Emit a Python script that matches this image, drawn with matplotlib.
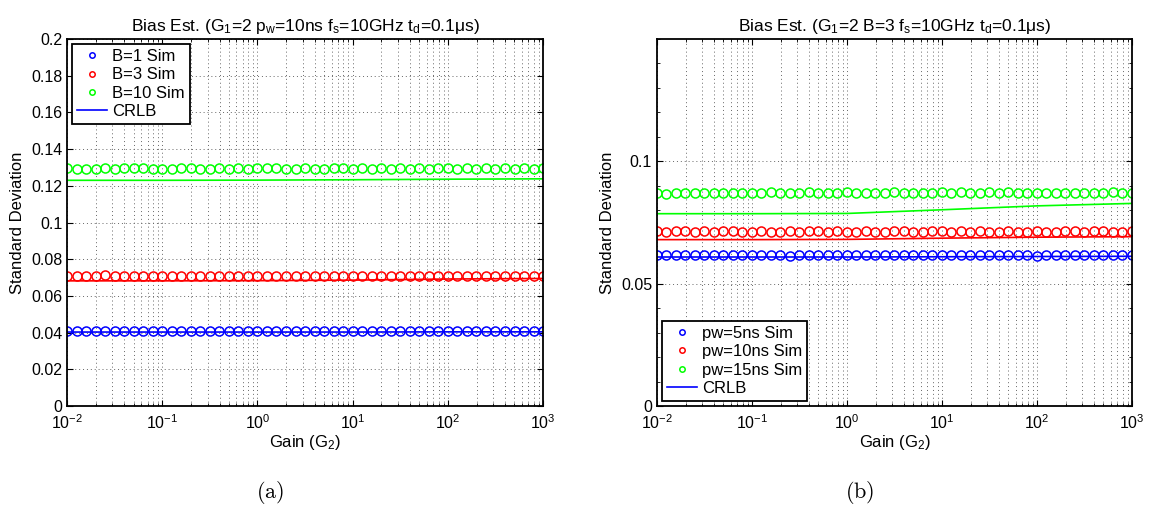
import numpy as np
import matplotlib
matplotlib.use("Agg")
import matplotlib.pyplot as plt
from matplotlib.ticker import FixedLocator, FixedFormatter, LogLocator, MultipleLocator

plt.rcParams["font.family"] = ["Liberation Sans", "DejaVu Sans"]
plt.rcParams["mathtext.fontset"] = "custom"
plt.rcParams["mathtext.rm"] = "Liberation Sans"
plt.rcParams["mathtext.it"] = "Liberation Sans:italic"
plt.rcParams["mathtext.default"] = "regular"

# ── Données ─────────────────────────────────────────────────────────────
gain = np.logspace(-2, 3, 51)          # grille de gains G2 (51 points)
gain_crlb = [1e-2, 1e-1, 1e0, 1e1, 1e2, 1e3]

# (a) : p_w = 10 ns, B variable
a_b1_sim = [0.0409, 0.0408, 0.0409, 0.0409, 0.0408, 0.0409, 0.0409, 0.0408, 0.0409, 0.0408,
            0.0409, 0.0409, 0.0408, 0.0409, 0.0409, 0.0408, 0.0409, 0.0408, 0.0409, 0.0409,
            0.0408, 0.0409, 0.0409, 0.0408, 0.0409, 0.0409, 0.0408, 0.0409, 0.0409, 0.0408,
            0.0409, 0.0409, 0.0408, 0.0409, 0.0409, 0.0408, 0.0409, 0.0409, 0.0409, 0.0408,
            0.0409, 0.0409, 0.0408, 0.0409, 0.0409, 0.0408, 0.0409, 0.0409, 0.0408, 0.0409, 0.0409]
a_b3_sim = [0.0710, 0.0709, 0.0710, 0.0709, 0.0712, 0.0709, 0.0710, 0.0710, 0.0709, 0.0709,
            0.0710, 0.0710, 0.0709, 0.0710, 0.0711, 0.0710, 0.0710, 0.0711, 0.0711, 0.0710,
            0.0711, 0.0711, 0.0710, 0.0711, 0.0710, 0.0711, 0.0710, 0.0710, 0.0710, 0.0709,
            0.0710, 0.0710, 0.0709, 0.0711, 0.0710, 0.0710, 0.0711, 0.0710, 0.0709, 0.0710,
            0.0710, 0.0709, 0.0710, 0.0709, 0.0710, 0.0710, 0.0711, 0.0710, 0.0711, 0.0711, 0.0710]
a_b10_sim = [0.1295, 0.1293, 0.1294, 0.1294, 0.1296, 0.1294, 0.1296, 0.1295, 0.1295, 0.1294,
             0.1293, 0.1293, 0.1296, 0.1295, 0.1293, 0.1294, 0.1295, 0.1294, 0.1295, 0.1294,
             0.1295, 0.1296, 0.1296, 0.1294, 0.1294, 0.1295, 0.1294, 0.1294, 0.1295, 0.1295,
             0.1294, 0.1295, 0.1294, 0.1295, 0.1294, 0.1296, 0.1294, 0.1295, 0.1294, 0.1295,
             0.1295, 0.1294, 0.1295, 0.1294, 0.1295, 0.1294, 0.1295, 0.1294, 0.1295, 0.1294, 0.1295]
a_b1_crlb = [0.0403, 0.0403, 0.0403, 0.0403, 0.0404, 0.0404]
a_b3_crlb = [0.0682, 0.0682, 0.0683, 0.0686, 0.0692, 0.0695]
a_b10_crlb = [0.1230, 0.1230, 0.1231, 0.1233, 0.1236, 0.1238]

# (b) : B = 3, p_w variable
b_pw5_sim = [0.0616, 0.0616, 0.0616, 0.0616, 0.0616, 0.0616, 0.0616, 0.0616, 0.0616, 0.0616,
             0.0616, 0.0616, 0.0616, 0.0616, 0.0615, 0.0616, 0.0618, 0.0616, 0.0617, 0.0616,
             0.0616, 0.0616, 0.0616, 0.0616, 0.0616, 0.0616, 0.0616, 0.0616, 0.0616, 0.0616,
             0.0616, 0.0616, 0.0616, 0.0616, 0.0616, 0.0617, 0.0616, 0.0616, 0.0617, 0.0616,
             0.0615, 0.0616, 0.0616, 0.0616, 0.0616, 0.0616, 0.0616, 0.0616, 0.0617, 0.0616, 0.0616]
b_pw10_sim = [0.0714, 0.0713, 0.0714, 0.0714, 0.0713, 0.0714, 0.0713, 0.0714, 0.0714, 0.0713,
              0.0713, 0.0714, 0.0713, 0.0713, 0.0714, 0.0713, 0.0714, 0.0714, 0.0713, 0.0714,
              0.0713, 0.0713, 0.0715, 0.0713, 0.0713, 0.0714, 0.0714, 0.0713, 0.0713, 0.0714,
              0.0715, 0.0713, 0.0714, 0.0713, 0.0715, 0.0713, 0.0713, 0.0714, 0.0713, 0.0713,
              0.0714, 0.0713, 0.0713, 0.0714, 0.0714, 0.0713, 0.0714, 0.0714, 0.0713, 0.0713, 0.0714]
b_pw15_sim = [0.0871, 0.0868, 0.0872, 0.0872, 0.0872, 0.0872, 0.0872, 0.0872, 0.0872, 0.0871,
              0.0872, 0.0872, 0.0873, 0.0871, 0.0872, 0.0872, 0.0873, 0.0870, 0.0872, 0.0871,
              0.0873, 0.0872, 0.0871, 0.0872, 0.0872, 0.0873, 0.0871, 0.0871, 0.0872, 0.0872,
              0.0873, 0.0871, 0.0873, 0.0871, 0.0872, 0.0873, 0.0872, 0.0873, 0.0872, 0.0872,
              0.0872, 0.0872, 0.0871, 0.0872, 0.0872, 0.0872, 0.0872, 0.0872, 0.0873, 0.0872, 0.0871]
b_pw5_crlb = [0.0609, 0.0609, 0.0609, 0.0610, 0.0611, 0.0612]
b_pw10_crlb = [0.0680, 0.0680, 0.0681, 0.0686, 0.0690, 0.0692]
b_pw15_crlb = [0.0786, 0.0786, 0.0787, 0.0802, 0.0818, 0.0828]

COLORS = ["#0000ff", "#ff0000", "#00ff00"]
GRID = dict(color="0.4", linestyle=(0, (1, 3)), linewidth=0.7)


def style_axes(ax):
    ax.set_xscale("log")
    ax.set_xlim(1e-2, 1e3)
    ax.xaxis.set_major_locator(LogLocator(base=10, numticks=10))
    ax.xaxis.set_minor_locator(LogLocator(base=10, subs=np.arange(2, 10), numticks=20))
    ax.grid(True, which="major", axis="both", **GRID)
    ax.grid(True, which="minor", axis="x", **GRID)
    ax.tick_params(which="both", direction="in", top=True, right=True, labelsize=11.5)
    ax.tick_params(axis="x", which="major", pad=5)
    ax.tick_params(which="major", length=4, width=0.8)
    ax.tick_params(which="minor", length=2, width=0.6)
    for sp in ax.spines.values():
        sp.set_linewidth(1.3)
    ax.set_xlabel("Gain (G$_2$)", fontsize=12, labelpad=1)
    ax.set_ylabel("Standard Deviation", fontsize=12, labelpad=4)


def draw_panel(ax, sims, crlbs, labels):
    for y, c, lab in zip(sims, COLORS, labels):
        ax.plot(gain, y, "o", mfc="none", mec=c, mew=1.1, ms=6.5, label=lab)
    for k, (y, c) in enumerate(zip(crlbs, COLORS)):
        ax.plot(gain_crlb, y, "-", color=c, lw=1.2, label="CRLB" if k == 0 else None)


def add_legend(ax, loc):
    leg = ax.legend(loc=loc, fontsize=12, markerscale=0.6, handlelength=1.8,
                    handletextpad=0.3, borderpad=0.3, labelspacing=0.2,
                    borderaxespad=0.3, fancybox=False, framealpha=1, edgecolor="black")
    leg.get_frame().set_linewidth(1.3)


fig = plt.figure(figsize=(11.54, 5.08), dpi=100)
ax_a = fig.add_axes([0.0581, 0.2008, 0.4125, 0.7224])
ax_b = fig.add_axes([0.5693, 0.2008, 0.4116, 0.7224])

# ── (a) ──────────────────────────────────────────────────────────────────
draw_panel(ax_a, [a_b1_sim, a_b3_sim, a_b10_sim], [a_b1_crlb, a_b3_crlb, a_b10_crlb],
           ["B=1 Sim", "B=3 Sim", "B=10 Sim"])
style_axes(ax_a)
ax_a.set_ylim(0, 0.2)
yt_a = [0, 0.02, 0.04, 0.06, 0.08, 0.1, 0.12, 0.14, 0.16, 0.18, 0.2]
ax_a.yaxis.set_major_locator(FixedLocator(yt_a))
ax_a.yaxis.set_major_formatter(FixedFormatter(["0", "0.02", "0.04", "0.06", "0.08", "0.1",
                                               "0.12", "0.14", "0.16", "0.18", "0.2"]))
ax_a.set_title(r"Bias Est. (G$_1$=2 p$_w$=10ns f$_s$=10GHz t$_d$=0.1$\mu$s)",
               fontsize=12.5, pad=6)
add_legend(ax_a, "upper left")

# ── (b) ──────────────────────────────────────────────────────────────────
draw_panel(ax_b, [b_pw5_sim, b_pw10_sim, b_pw15_sim], [b_pw5_crlb, b_pw10_crlb, b_pw15_crlb],
           ["pw=5ns Sim", "pw=10ns Sim", "pw=15ns Sim"])
style_axes(ax_b)
ax_b.set_ylim(0, 0.15)
ax_b.yaxis.set_major_locator(FixedLocator([0, 0.05, 0.1]))
ax_b.yaxis.set_major_formatter(FixedFormatter(["0", "0.05", "0.1"]))
ax_b.yaxis.set_minor_locator(MultipleLocator(0.01))
ax_b.set_title(r"Bias Est. (G$_1$=2 B=3 f$_s$=10GHz t$_d$=0.1$\mu$s)", fontsize=12.5, pad=6)
add_legend(ax_b, "lower left")

# légendes de sous-figures (style LaTeX)
fig.text(0.234, 0.031, r"$\mathrm{(a)}$", ha="center", va="center", fontsize=16,
         math_fontfamily="cm")
fig.text(0.745, 0.031, r"$\mathrm{(b)}$", ha="center", va="center", fontsize=16,
         math_fontfamily="cm")

fig.savefig("out.png", dpi=100)
